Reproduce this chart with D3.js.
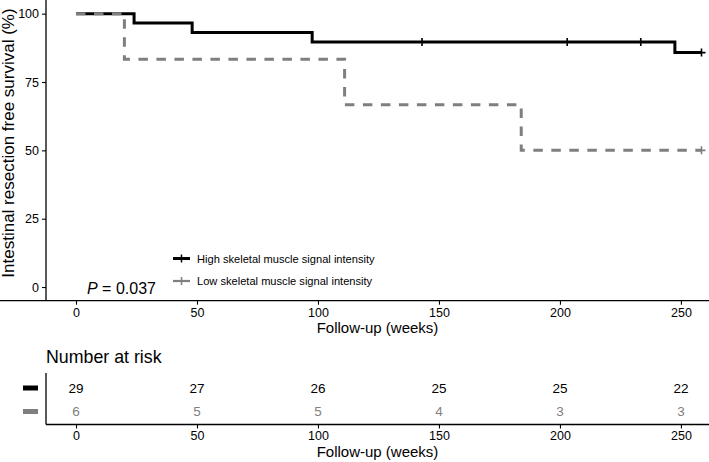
<!DOCTYPE html>
<html>
<head>
<meta charset="utf-8">
<script src="https://cdn.jsdelivr.net/npm/d3@7"></script>
<style>
  html, body { margin: 0; padding: 0; background: #fff; }
  svg { display: block; font-family: "Liberation Sans", Arial, Helvetica, sans-serif; }
</style>
</head>
<body>
<svg id="chart" width="709" height="462"></svg>
<script>
// ---------- data ----------
const xTicks = [0, 50, 100, 150, 200, 250];
const yTicks = [0, 25, 50, 75, 100];

const highTimes = [0, 24, 48, 97.6, 247.5, 258.5];
const highSurv  = [100, 96.55, 93.10, 89.66, 85.76, 85.76];
const highCensorTimes = [143, 203, 233.4, 258.5];

const lowTimes = [0, 20, 111, 184, 258.5];
const lowSurv  = [100, 83.33, 66.67, 50, 50];
const lowCensorTimes = [258.5];

const groupNames = ["High skeletal muscle signal intensity", "Low skeletal muscle signal intensity"];
const groupColors = ["#000000", "#7f7f7f"];
const riskHigh = [29, 27, 26, 25, 25, 22];
const riskLow  = [6, 5, 5, 4, 3, 3];
const pText = "= 0.037";

// ---------- layout ----------
const svg = d3.select("#chart");
const x = d3.scaleLinear().domain([-12.4, 261.6]).range([46, 709]);
const y = d3.scaleLinear().domain([-5, 105]).range([300.7, 0]);

function survAt(times, surv, t) {
  let s = surv[0];
  for (let i = 0; i < times.length; i++) if (times[i] <= t) s = surv[i];
  return s;
}

// ---------- main plot axes ----------
const gx = svg.append("g").attr("transform", "translate(0,300.7)")
  .call(d3.axisBottom(x).tickValues(xTicks).tickSize(4).tickPadding(3).tickFormat(d3.format("d")));
const gy = svg.append("g").attr("transform", "translate(46,0)")
  .call(d3.axisLeft(y).tickValues(yTicks).tickSize(4).tickPadding(3).tickFormat(d3.format("d")));
[gx, gy].forEach(g => {
  g.select(".domain").attr("stroke", "#000").attr("stroke-width", 1.3);
  g.selectAll(".tick line").attr("stroke", "#000").attr("stroke-width", 1.1);
  g.selectAll(".tick text").attr("fill", "#000").style("font-size", "12.5px")
    .style("font-family", "Liberation Sans, Arial, sans-serif");
});
gx.select(".domain").attr("d", "M0,0H709");
gy.select(".domain").attr("d", "M0,0V300.7");

svg.append("text").attr("x", 377.5).attr("y", 333).attr("text-anchor", "middle")
  .style("font-size", "15px").text("Follow-up (weeks)");
svg.append("text").attr("transform", "translate(14,143) rotate(-90)").attr("text-anchor", "middle")
  .style("font-size", "17px").text("Intestinal resection free survival (%)");

// ---------- curves ----------
const line = d3.line().x(d => x(d[0])).y(d => y(d[1])).curve(d3.curveStepAfter);
const highData = highTimes.map((t, i) => [t, highSurv[i]]);
const lowData = lowTimes.map((t, i) => [t, lowSurv[i]]);

svg.append("path").datum(highData).attr("d", line).attr("fill", "none")
  .attr("stroke", groupColors[0]).attr("stroke-width", 3);
svg.selectAll(".cenH").data(highCensorTimes).enter().append("path")
  .attr("d", t => {
    const cx = x(t), cy = y(survAt(highTimes, highSurv, t));
    return `M${cx},${cy - 4}V${cy + 4}M${cx - 4},${cy}H${cx + 4}`;
  }).attr("stroke", groupColors[0]).attr("stroke-width", 1.6);

svg.append("path").datum(lowData).attr("d", line).attr("fill", "none")
  .attr("stroke", groupColors[1]).attr("stroke-width", 3).attr("stroke-dasharray", "9.5,8.5");
svg.selectAll(".cenL").data(lowCensorTimes).enter().append("path")
  .attr("d", t => {
    const cx = x(t), cy = y(survAt(lowTimes, lowSurv, t));
    return `M${cx},${cy - 4}V${cy + 4}M${cx - 4},${cy}H${cx + 4}`;
  }).attr("stroke", groupColors[1]).attr("stroke-width", 1.6);

// ---------- legend ----------
const legY = [258.5, 281];
groupNames.forEach((name, i) => {
  const g = svg.append("g");
  g.append("path").attr("d", `M173,${legY[i]}H190`).attr("stroke", groupColors[i]).attr("stroke-width", i === 0 ? 3 : 2.2);
  g.append("path").attr("d", `M181.5,${legY[i] - 4}V${legY[i] + 4}`).attr("stroke", groupColors[i]).attr("stroke-width", 1.5);
  g.append("text").attr("x", 197).attr("y", legY[i] + 4).style("font-size", "11.1px").attr("fill", "#000").text(name);
});

// p value
const pt = svg.append("text").attr("x", 87).attr("y", 293.5).style("font-size", "16px");
pt.append("tspan").style("font-style", "italic").text("P");
pt.append("tspan").text(" " + pText);

// ---------- risk table ----------
svg.append("text").attr("x", 46).attr("y", 363).style("font-size", "17.8px").text("Number at risk");

const rowY = [388, 411.5];
const rows = [riskHigh, riskLow];
const rowColors = ["#000000", "#808080"];
rows.forEach((vals, r) => {
  svg.selectAll(".risk" + r).data(vals).enter().append("text")
    .attr("x", (d, i) => x(xTicks[i])).attr("y", rowY[r] + 4.5)
    .attr("text-anchor", "middle").style("font-size", "13.5px").attr("fill", rowColors[r])
    .text(d => d);
  svg.append("rect").attr("x", 23).attr("y", rowY[r] - 2.5).attr("width", 15).attr("height", 5)
    .attr("fill", groupColors[r]);
});

const gx2 = svg.append("g").attr("transform", "translate(0,424.5)")
  .call(d3.axisBottom(x).tickValues(xTicks).tickSize(4).tickPadding(3).tickFormat(d3.format("d")));
gx2.select(".domain").attr("d", "M46,0H709").attr("stroke", "#000").attr("stroke-width", 1.3);
gx2.selectAll(".tick line").attr("stroke", "#000").attr("stroke-width", 1.1);
gx2.selectAll(".tick text").attr("fill", "#000").style("font-size", "12.5px")
  .style("font-family", "Liberation Sans, Arial, sans-serif");
svg.append("path").attr("d", "M46,373V424.5").attr("stroke", "#000").attr("stroke-width", 1.3);
svg.append("text").attr("x", 377.5).attr("y", 457).attr("text-anchor", "middle")
  .style("font-size", "15px").text("Follow-up (weeks)");
</script>
</body>
</html>
